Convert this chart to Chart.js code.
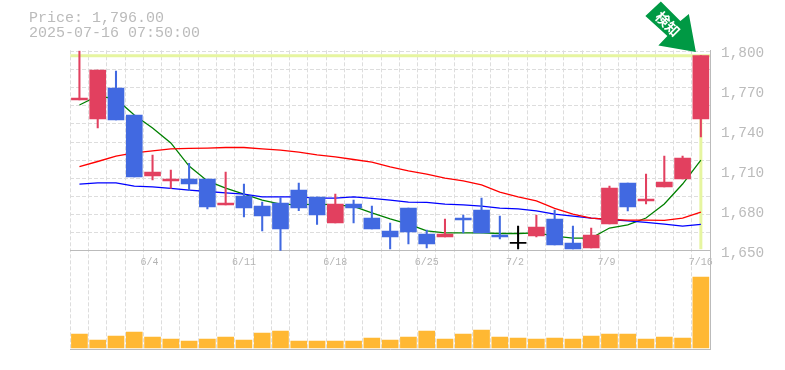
<!DOCTYPE html>
<html>
<head>
<meta charset="utf-8">
<style>
  html, body { margin: 0; padding: 0; background: #fff; }
  #wrap { position: relative; width: 785px; height: 370px; }
</style>
<script src="https://cdn.jsdelivr.net/npm/chart.js@4"></script>
</head>
<body>
<div id="wrap"><canvas id="myChart" width="785" height="370"></canvas></div>
<script>
const dates = ['5/29','5/30','6/2','6/3','6/4','6/5','6/6','6/9','6/10','6/11','6/12','6/13','6/16','6/17','6/18','6/19','6/20','6/23','6/24','6/25','6/26','6/27','6/30','7/1','7/2','7/3','7/4','7/7','7/8','7/9','7/10','7/11','7/14','7/15','7/16'];
const tickDates = ['6/4','6/11','6/18','6/25','7/2','7/9','7/16'];
const priceTicks = [1650, 1680, 1710, 1740, 1770, 1800];

const opens  = [1762.7,1748.5,1771.7,1751.5,1705.7,1702,1703.5,1703.5,1684,1690.7,1683.2,1685.5,1695.2,1690,1670.5,1684.7,1674.2,1664.5,1681.7,1662.2,1660,1674.2,1680.2,1661.5,1655.5,1660.7,1673.5,1655.5,1651.7,1669.7,1700.5,1687,1697.5,1703.5,1748.5];
const closes = [1764.2,1785.2,1747.7,1705,1708.7,1703.5,1699.7,1682.5,1685.5,1681.7,1675.7,1666,1681.7,1676.5,1684.7,1681.7,1666,1660,1663.7,1654.7,1662.2,1672.7,1663,1660,1655.5,1667.5,1654,1651,1661.5,1696.7,1682.5,1688.5,1701.2,1719.2,1796];
const highs  = [1799.5,1785.2,1784.5,1751.5,1721.5,1710.2,1715.2,1703.5,1708.7,1699.7,1686.2,1689.5,1700.5,1690,1692.2,1687.7,1683.2,1670.5,1681.7,1665.2,1673.5,1676.5,1689.2,1675.7,1668.2,1676.5,1680.2,1668.2,1666.7,1698.2,1700.5,1707.2,1720.7,1720.7,1796];
const lows   = [1762.7,1741.7,1747.7,1705,1702.7,1696.5,1694.7,1681,1684,1675,1664.5,1650,1679.7,1669.5,1670.5,1670.5,1666,1651,1654.7,1651.7,1660,1663,1663,1658.5,1651,1660,1654,1651,1651.7,1669.7,1679.5,1684.7,1697.5,1703.5,1735];
const ma5  = [1759,1765.7,1763.5,1751.5,1741.7,1730.5,1713.2,1702,1696.7,1692.2,1687.7,1684.7,1684,1684.7,1684,1682.9,1678,1673.5,1669.7,1664.5,1663,1663,1663,1662.6,1662.6,1663,1660.7,1659.2,1659.2,1666.7,1669,1674.2,1684.7,1699.7,1717.7];
const ma25 = [1712.7,1716.6,1720.7,1723,1724.5,1726,1726.4,1726.7,1727.1,1727.1,1726,1725.2,1723.7,1721.5,1720,1718.1,1716.2,1712.5,1709.5,1707.2,1704.2,1702,1699,1693.7,1690,1687,1681.4,1677.2,1674.2,1673.1,1672.7,1672.7,1672.4,1674.2,1678.7];
const ma75 = [1699.7,1700.5,1700.5,1698.2,1697.5,1696.4,1695.2,1694.1,1693,1692.2,1690,1690,1690,1689.2,1689.2,1690,1688.9,1687.7,1686.2,1685.9,1684.7,1684,1683.2,1681.7,1681,1679.5,1677.2,1675.7,1674.2,1673.1,1672,1670.9,1669.7,1668.2,1669.4];
const volumes = [14,8,12,16,11,9,7,9,11,8,15,17,7,7,7,7,10,8,11,17,9,14,18,11,10,9,10,9,12,14,14,9,11,10,71];

const headerLines = ['Price: 1,796.00', '2025-07-16 07:50:00'];
const alertLabel = '検知';

const UP = '#e2405f', DOWN = '#4169e1', FLAT = '#000000';
const MONO = '"Liberation Mono", monospace';

const candleColors = opens.map((o, i) => closes[i] > o ? UP : closes[i] < o ? DOWN : FLAT);
const bodies = opens.map((o, i) => o === closes[i] ? [o - 0.4, o + 0.4] : [o, closes[i]]);
const wicks = highs.map((h, i) => [lows[i], h]);

// repere jaune et fleche "detection" sur la derniere bougie
const overlayPlugin = {
    id: 'overlay',
    beforeDatasetsDraw(chart) {
        const { ctx, chartArea, scales } = chart;
        const x = scales.x.getPixelForValue(dates.length - 1);
        const y = scales.y.getPixelForValue(closes[closes.length - 1]);
        const yBase = scales.y.getPixelForValue(1650);
        ctx.save();
        ctx.strokeStyle = '#e6f5a0';
        ctx.lineWidth = 3;
        ctx.beginPath();
        ctx.moveTo(chartArea.left, y);
        ctx.lineTo(chartArea.right, y);
        ctx.moveTo(x, y);
        ctx.lineTo(x, yBase - 1);
        ctx.stroke();
        ctx.restore();
    },
    afterDraw(chart) {
        const { ctx, scales } = chart;
        ctx.save();
        ctx.fillStyle = '#bbbbbb';
        ctx.font = '15px ' + MONO;
        ctx.textBaseline = 'middle';
        ctx.textAlign = 'left';
        ctx.fillText(headerLines[0], 29, 18);
        ctx.fillText(headerLines[1], 29, 33);

        const tipX = scales.x.getPixelForValue(dates.length - 1) - 5;
        const tipY = 52;
        const arrow = [[0,0],[-37.5,-6.5],[-28.5,-16],[-50.5,-36],[-35,-50.5],[-15.5,-31],[-7,-38]];
        ctx.fillStyle = '#009944';
        ctx.beginPath();
        arrow.forEach((p, i) => {
            if (i === 0) ctx.moveTo(tipX + p[0], tipY + p[1]);
            else ctx.lineTo(tipX + p[0], tipY + p[1]);
        });
        ctx.closePath();
        ctx.fill();

        ctx.translate(tipX - 28, tipY - 28);
        ctx.rotate(Math.PI / 4);
        ctx.fillStyle = '#ffffff';
        ctx.font = 'bold 14px "Noto Sans CJK JP"';
        ctx.textAlign = 'center';
        ctx.fillText(alertLabel, 0, 0);
        ctx.restore();
    }
};

const ctx = document.getElementById('myChart').getContext('2d');
new Chart(ctx, {
    data: {
        labels: dates,
        datasets: [
            { type: 'line', label: 'MA5', data: ma5, borderColor: '#008000', borderWidth: 1.3, pointRadius: 0, yAxisID: 'y', order: 3 },
            { type: 'line', label: 'MA25', data: ma25, borderColor: '#ff0000', borderWidth: 1.3, pointRadius: 0, yAxisID: 'y', order: 2 },
            { type: 'line', label: 'MA75', data: ma75, borderColor: '#0000ff', borderWidth: 1.3, pointRadius: 0, yAxisID: 'y', order: 2 },
            { type: 'bar', label: 'wick', data: wicks, backgroundColor: candleColors, barThickness: 1.4, grouped: false, yAxisID: 'y', order: 1 },
            { type: 'bar', label: 'body', data: bodies, backgroundColor: candleColors, barThickness: 16, grouped: false, yAxisID: 'y', order: 0 },
            { type: 'bar', label: 'volume', data: volumes, backgroundColor: '#ffb833', barThickness: 16, grouped: false, yAxisID: 'vol', order: 4 }
        ]
    },
    options: {
        responsive: false,
        animation: false,
        layout: { padding: { left: 70.3, top: 50.3, bottom: 20.5, right: 0 } },
        plugins: { legend: { display: false }, tooltip: { enabled: false } },
        scales: {
            x: {
                type: 'category',
                position: { y: 1650 },
                offset: true,
                grid: { color: '#dddddd', lineWidth: 1, tickLength: 0, drawTicks: false },
                border: { color: '#bbbbbb', dash: [4, 2] },
                ticks: {
                    autoSkip: false,
                    maxRotation: 0,
                    padding: 6,
                    color: '#b4b4b4',
                    font: { family: MONO, size: 10 },
                    callback(value) {
                        const d = dates[value];
                        return tickDates.includes(d) ? d.padEnd(4) : '';
                    }
                }
            },
            xBottom: {
                type: 'category',
                position: 'bottom',
                afterFit(scale) { scale.height = 0; },
                grid: { display: false },
                border: { color: '#bbbbbb' },
                ticks: { display: false }
            },
            y: {
                position: 'right',
                min: 1575.6,
                max: 1800,
                grid: { display: false },
                border: { color: '#bbbbbb' },
                afterBuildTicks(scale) { scale.ticks = priceTicks.map(value => ({ value })); },
                afterFit(scale) { scale.width = 75; },
                ticks: {
                    color: '#bbbbbb',
                    padding: 3,
                    labelOffset: 3,
                    font: { family: MONO, size: 14.4 },
                    callback: v => v.toLocaleString('en-US')
                }
            },
            vol: {
                display: false,
                min: -1.5,
                max: 297.7
            },
            yGrid: {
                position: 'left',
                min: 0,
                max: 16.58,
                afterBuildTicks(scale) {
                    const t = [];
                    for (let i = 0; i <= 11; i++) t.push({ value: 5.496 + i });
                    scale.ticks = t;
                },
                afterFit(scale) { scale.width = 0; },
                border: { display: false, dash: [4, 2] },
                grid: { color: '#dddddd', lineWidth: 1, drawTicks: false },
                ticks: { display: false }
            }
        }
    },
    plugins: [overlayPlugin]
});
</script>
</body>
</html>
